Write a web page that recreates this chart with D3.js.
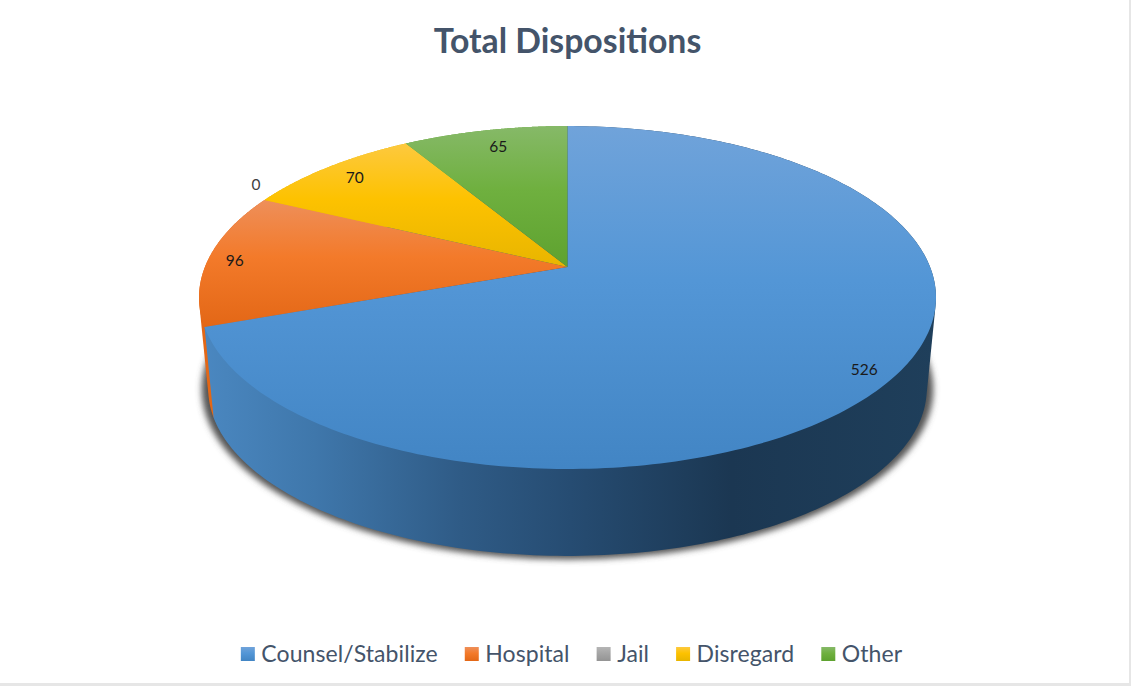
<!DOCTYPE html>
<html>
<head>
<meta charset="utf-8">
<script src="https://cdn.jsdelivr.net/npm/d3@7"></script>
<style>
    html, body { margin: 0; padding: 0; background: #fff; }
    svg { display: block; }
    text { font-family: Lato, "Open Sans", sans-serif; }
</style>
</head>
<body>
<svg id="chart" width="1131" height="686"></svg>
<script>
    'use strict';

    var categories = ['Counsel/Stabilize', 'Hospital', 'Jail', 'Disregard', 'Other'];
    var values = [526, 96, 0, 70, 65];
    var title = 'Total Dispositions';

    // light, base, dark
    var faceColors = [
        ['#70a3da', '#5396d6', '#4285c4'],
        ['#ee8f5a', '#f37a2a', '#e36716'],
        ['#b5b5b5', '#a5a5a5', '#949494'],
        ['#fdc93f', '#fdc200', '#e8b500'],
        ['#86b968', '#6fb03f', '#5ea22f']
    ];

    // Where the data labels sit, in pie radii and pixels down
    var labelRadius = [0.907, 0.927, 1.03, 0.879, 0.816];
    var labelNudge = [7, 1, -14, -1, -6];

    var width = 1131,
        height = 686,
        apexX = 567.5,
        apexY = 267,
        radiusX = 362.6,
        radiusY = 166,
        tilt = 0.178,       // perspective of the lit face
        depth = 92,
        bottomScale = 0.975;

    var svg = d3.select('#chart');
    var defs = svg.append('defs');

    // Perspective projection of a pie point; angle is clockwise from twelve o'clock
    var project = function(angle, r, scale, drop) {
        var u = Math.sin(angle) * r,
            v = Math.cos(angle) * r,
            w = 1 + tilt * v;
        return [
            apexX + scale * radiusX * u / w,
            apexY + drop - scale * radiusY * v / w
        ];
    };

    var sampleArc = function(a0, a1, scale, drop) {
        return d3.range(0, 1.0001, 1 / 240).map(function(t) {
            return project(a0 + (a1 - a0) * t, 1, scale, drop);
        });
    };

    var line = d3.line();
    var pie = d3.pie().sort(null).startAngle(0).endAngle(2 * Math.PI);
    var slices = pie(values);

    /* * * * * * * * GRADIENTS * * * * * * * */
    faceColors.forEach(function(colors, i) {
        var grad = defs.append('linearGradient')
            .attr('id', 'face-' + i)
            .attr('x1', 0).attr('y1', 0).attr('x2', 0).attr('y2', 1);
        grad.append('stop').attr('offset', '0%').attr('stop-color', colors[0]);
        grad.append('stop').attr('offset', '45%').attr('stop-color', colors[1]);
        grad.append('stop').attr('offset', '100%').attr('stop-color', colors[2]);
    });

    var wallGrad = defs.append('linearGradient')
        .attr('id', 'wall')
        .attr('gradientUnits', 'userSpaceOnUse')
        .attr('x1', 205).attr('y1', 0).attr('x2', 936).attr('y2', 0);
    [['0%', '#4a87c0'], ['15%', '#3f77ab'], ['35%', '#2f5b86'], ['50%', '#264c72'],
        ['72%', '#1b3752'], ['100%', '#1f3f5b']].forEach(function(s) {
        wallGrad.append('stop').attr('offset', s[0]).attr('stop-color', s[1]);
    });

    var blur = defs.append('filter').attr('id', 'blur')
        .attr('x', '-5%').attr('y', '-5%').attr('width', '110%').attr('height', '110%');
    blur.append('feGaussianBlur').attr('stdDeviation', 3.2);

    /* * * * * * * * FRAME AND TITLE * * * * * * * */
    svg.append('rect').attr('width', width).attr('height', height).attr('fill', '#e6e6e6');
    svg.append('rect').attr('width', width - 2).attr('height', height - 3).attr('fill', '#fff');

    svg.append('text')
        .attr('x', 567.5).attr('y', 53)
        .attr('text-anchor', 'middle')
        .attr('font-size', 33.8)
        .attr('font-weight', 700)
        .attr('fill', '#44546a')
        .text(title);

    /* * * * * * * * PIE * * * * * * * */
    // Drop shadow under the lower rim
    svg.append('path')
        .attr('d', line(sampleArc(0, 2 * Math.PI, bottomScale * 1.018, depth)) + 'Z')
        .attr('fill', '#555')
        .attr('filter', 'url(#blur)');

    // Walls back to front, so the big slice covers the sliver of its neighbour
    slices.slice().reverse().forEach(function(d) {
        if (d.endAngle === d.startAngle) {
            return;
        }
        var pts = sampleArc(d.startAngle, d.endAngle, 1, 0)
            .concat(sampleArc(d.startAngle, d.endAngle, bottomScale, depth));
        svg.append('path')
            .attr('d', line(d3.polygonHull(pts)) + 'Z')
            .attr('fill', d.index === 0 ? 'url(#wall)' : faceColors[d.index][2]);
    });

    // Lit faces
    svg.append('g').selectAll('path')
        .data(slices.filter(function(d) { return d.value > 0; }))
        .join('path')
        .attr('d', function(d) {
            var pts = [[apexX, apexY]].concat(sampleArc(d.startAngle, d.endAngle, 1, 0));
            return line(pts) + 'Z';
        })
        .attr('fill', function(d) { return 'url(#face-' + d.index + ')'; });

    // Data labels
    svg.append('g').selectAll('text')
        .data(slices)
        .join('text')
        .attr('transform', function(d) {
            var p = project((d.startAngle + d.endAngle) / 2, labelRadius[d.index], 1, 0);
            return 'translate(' + p[0] + ',' + (p[1] + labelNudge[d.index]) + ')';
        })
        .attr('text-anchor', 'middle')
        .attr('dy', '0.36em')
        .attr('font-size', 15.5)
        .attr('fill', function(d) { return d.value > 0 ? '#1a1a1a' : '#404040'; })
        .text(function(d) { return d.value; });

    /* * * * * * * * LEGEND * * * * * * * */
    var legend = svg.append('g');
    var cursor = 0;
    categories.forEach(function(name, i) {
        var item = legend.append('g').attr('transform', 'translate(' + cursor + ',0)');
        item.append('rect')
            .attr('y', -7).attr('width', 14).attr('height', 14)
            .attr('fill', 'url(#face-' + i + ')');
        var label = item.append('text')
            .attr('x', 20.5).attr('dy', '0.36em')
            .attr('font-size', 23)
            .attr('letter-spacing', 0.08)
            .attr('fill', '#44546a')
            .text(name);
        cursor += 20.5 + label.node().getComputedTextLength() + 27;
    });
    legend.attr('transform', 'translate(' + (571.5 - (cursor - 27) / 2) + ',654)');
</script>
</body>
</html>
